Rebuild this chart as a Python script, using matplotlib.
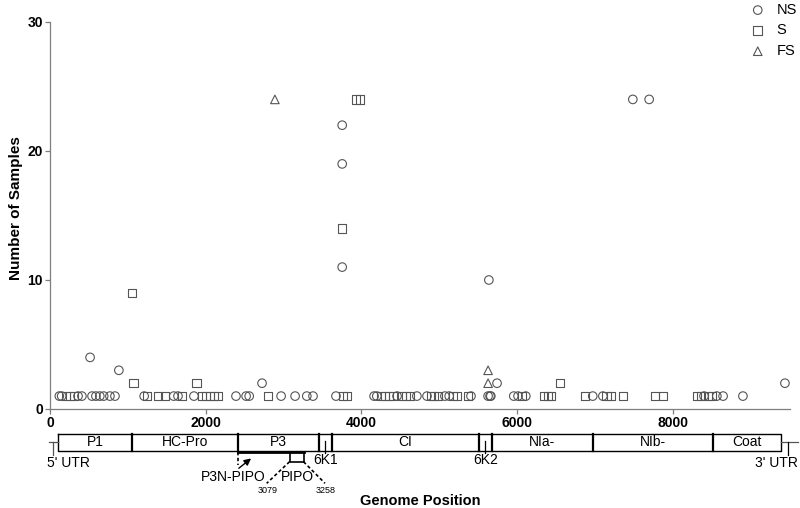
import matplotlib
matplotlib.use('Agg')
import matplotlib.pyplot as plt

plt.rcParams['font.family'] = ['Liberation Sans', 'DejaVu Sans']

# mutation positions (nt) and number of samples carrying them
ns_pos = [120, 150, 360, 410, 515, 540, 590, 640, 690, 770, 835, 885, 1210, 1590, 1645, 1850,
          2390, 2520, 2560, 2725, 2970, 3150, 3300, 3380, 3675, 3755, 3755, 3755, 4165, 4200,
          4460, 4715, 4845, 5075, 5130, 5410, 5630, 5640, 5655, 5665, 5745, 5960, 6015, 6115,
          6975, 7105, 7490, 7700, 8405, 8570, 8650, 8905, 9445]
ns_n = [1, 1, 1, 1, 4, 1, 1, 1, 1, 1, 1, 3, 1, 1, 1, 1,
        1, 1, 1, 2, 1, 1, 1, 1, 1, 22, 19, 11, 1, 1,
        1, 1, 1, 1, 1, 1, 1, 10, 1, 1, 2, 1, 1, 1,
        1, 1, 24, 24, 1, 1, 1, 1, 2]

s_pos = [205, 255, 310, 1055, 1070, 1245, 1390, 1480, 1695, 1885, 1955, 2005, 2055, 2105, 2160,
         2800, 3750, 3765, 3815, 3930, 3985, 4255, 4305, 4355, 4410, 4525, 4575, 4625, 4895,
         4935, 4985, 5180, 5230, 5370, 6065, 6350, 6400, 6440, 6555, 6875, 7155, 7210, 7365,
         7775, 7880, 8315, 8365, 8455, 8505]
s_n = [1, 1, 1, 9, 2, 1, 1, 1, 1, 2, 1, 1, 1, 1, 1,
       1, 14, 1, 1, 24, 24, 1, 1, 1, 1, 1, 1, 1, 1,
       1, 1, 1, 1, 1, 1, 1, 1, 1, 2, 1, 1, 1, 1,
       1, 1, 1, 1, 1, 1]

fs_pos = [2890, 5630, 5630]
fs_n = [24, 3, 2]

# genome map
gene_names = ['P1', 'HC-Pro', 'P3', '6K1', 'CI', '6K2', 'NIa-', 'NIb-', 'Coat']
gene_starts = [103, 1050, 2420, 3453, 3620, 5513, 5676, 6981, 8524]
genome_end = 9393
small_genes = ['6K1', '6K2']
pipo_start, pipo_end = 3079, 3258

fig = plt.figure(figsize=(8, 5.08), dpi=100)
ax = fig.add_axes([0.0625, 0.1949, 0.925, 0.7618])

mk = dict(facecolors='none', edgecolors='#555555', linewidths=0.8, s=38, clip_on=False, zorder=3)
h1 = ax.scatter(ns_pos, ns_n, marker='o', label='NS', **mk)
h2 = ax.scatter(s_pos, s_n, marker='s', label='S', **mk)
h3 = ax.scatter(fs_pos, fs_n, marker='^', label='FS', **mk)

ax.set_xlim(0, 9510)
ax.set_ylim(0, 30)
ax.set_xticks([0, 2000, 4000, 6000, 8000])
ax.set_yticks([0, 10, 20, 30])
for s in ['top', 'right']:
    ax.spines[s].set_visible(False)
for s in ['left', 'bottom']:
    ax.spines[s].set_color('#7f7f7f')
    ax.spines[s].set_linewidth(0.9)
ax.tick_params(colors='#7f7f7f', length=3.5, width=0.9, pad=1.5, labelcolor='black', labelsize=10)
for lab in ax.get_xticklabels() + ax.get_yticklabels():
    lab.set_fontweight('bold')
ax.set_ylabel('Number of Samples', fontsize=11, fontweight='bold')
ax.yaxis.set_label_coords(-0.036, 0.52)

fig.legend(handles=[h1, h2, h3], loc='upper right', bbox_to_anchor=(1.0, 1.0),
           frameon=False, fontsize=10.5, handletextpad=0.7, labelspacing=0.45,
           borderpad=0.2, borderaxespad=0.0, handlelength=1.2)

# genome map axes, y in pixel rows below the x axis
gax = fig.add_axes([0.0625, 0.0, 0.925, 0.1949])
gax.set_xlim(0, 9510)
gax.set_ylim(99, 0)
gax.axis('off')

top, bot = 25, 42
mid = (top + bot) / 2
gax.plot([gene_starts[0], genome_end, genome_end, gene_starts[0], gene_starts[0]],
         [top, top, bot, bot, top], color='black', lw=1.0, clip_on=False)
ends = gene_starts[1:] + [genome_end]
for name, a, b in zip(gene_names, gene_starts, ends):
    if a != gene_starts[0]:
        gax.plot([a, a], [top, bot], color='black', lw=1.6, clip_on=False)
    c = (a + b) / 2
    if name in small_genes:
        gax.plot([c, c], [mid - 1, bot + 2], color='black', lw=0.9, clip_on=False)
        gax.text(c, 51, name, ha='center', va='center', fontsize=10)
    else:
        gax.text(c, mid, name, ha='center', va='center', fontsize=10)

# UTRs
utr5, utr3 = 35, 9480
gax.plot([-10, gene_starts[0]], [33, 33], color='#555555', lw=0.9, clip_on=False)
gax.plot([utr5, utr5], [33, 46], color='#555555', lw=0.9, clip_on=False)
gax.text(240, 54, "5' UTR", ha='center', va='center', fontsize=10)
gax.plot([genome_end, 9610], [33, 33], color='#555555', lw=0.9, clip_on=False)
gax.plot([utr3, utr3], [33, 46], color='black', lw=0.9, clip_on=False)
gax.text(9342, 54, "3' UTR", ha='center', va='center', fontsize=10)

# P3N-PIPO and PIPO
gax.plot([gene_starts[2], pipo_end], [43.5, 43.5], color='black', lw=2.0, clip_on=False)
gax.plot([gene_starts[2], gene_starts[2]], [43.5, 56], color='black', lw=1.2, ls=(0, (2, 1.5)))
gax.plot([pipo_start, pipo_start, pipo_end, pipo_end], [43.5, 52.7, 52.7, 43.5],
         color='black', lw=1.2)
gax.plot([pipo_start, 2785], [52.7, 74.3], color='black', lw=1.2, ls=(0, (2, 1.5)))
gax.plot([pipo_end, 3534], [52.7, 74.3], color='black', lw=1.2, ls=(0, (2, 1.5)))
gax.text(2795, 81.7, str(pipo_start), ha='center', va='center', fontsize=6.5)
gax.text(3540, 81.7, str(pipo_end), ha='center', va='center', fontsize=6.5)
gax.text(2352, 67.7, 'P3N-PIPO', ha='center', va='center', fontsize=10)
gax.text(3180, 67.7, 'PIPO', ha='center', va='center', fontsize=10)
gax.annotate('', xy=(2612, 47.7), xytext=(2399, 61),
             arrowprops=dict(arrowstyle='-|>', color='black', lw=1.0, mutation_scale=10))

fig.text(420 / 800, 0.014, 'Genome Position', ha='center', va='center',
         fontsize=10.5, fontweight='bold')

fig.savefig('out.png', dpi=100)
